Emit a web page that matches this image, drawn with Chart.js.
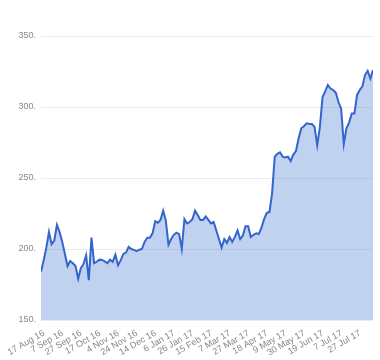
<!DOCTYPE html>
<html>
<head>
<meta charset="utf-8">
<script src="https://cdn.jsdelivr.net/npm/chart.js@4.4.1/dist/chart.umd.min.js"></script>
<style>
  body { margin: 0; background: #fff; }
  canvas { display: block; }
</style>
</head>
<body>
<canvas id="grafico" width="380" height="360"></canvas>
<script>
// datas mostradas no eixo x (uma a cada 14 pregões)
const tickLabels = ["17 Aug 16", "7 Sep 16", "27 Sep 16", "17 Oct 16", "4 Nov 16", "24 Nov 16",
  "14 Dec 16", "6 Jan 17", "26 Jan 17", "15 Feb 17", "7 Mar 17", "27 Mar 17",
  "18 Apr 17", "9 May 17", "30 May 17", "19 Jun 17", "7 Jul 17", "27 Jul 17"];
const diasPorTick = 14;
const passo = 2; // um valor a cada 2 pregões

// cotações
const precos = [
  184, 192, 201, 212, 203.5, 206, 217, 212, 205, 196.5,
  188, 191.5, 190, 188, 179, 186.5, 189.5, 195.5, 178, 208,
  190, 191, 192.5, 192.3, 191.3, 190, 192.5, 191, 196, 188.5,
  192, 196.5, 197.5, 201.5, 200, 199.4, 198.5, 199.5, 200, 205,
  208, 208, 211, 219.5, 218.5, 220.5, 227, 220, 203, 207,
  210, 211.5, 210.5, 200, 221, 218, 219, 221, 227, 224,
  220.5, 220.5, 223, 220.5, 218, 219, 213, 207, 201, 207,
  204.3, 208.5, 205, 208.5, 213, 207, 209.5, 216, 216, 208.5,
  210, 211, 210.5, 215, 221, 225.5, 226, 239, 265, 267,
  268, 265, 264.5, 265, 262, 266.5, 269, 278, 285, 286.5,
  288.5, 288, 288, 286, 273, 286, 307, 311, 315.5, 313,
  312, 310, 303.5, 299, 274, 285, 289, 295.5, 295.5, 308.5,
  312, 314.5, 322.5, 325.5, 320, 326
];
const yTicks = [150, 200, 250, 300, 350];

const pontos = precos.map((v, i) => ({ x: i * passo, y: v }));

Chart.defaults.font.family = "'Liberation Sans', Arial, sans-serif";
Chart.defaults.color = "#888";

const ctx = document.getElementById("grafico").getContext("2d");
new Chart(ctx, {
  type: "line",
  data: {
    datasets: [
      {
        data: pontos,
        borderColor: "#3366CC",
        backgroundColor: "rgba(51, 102, 204, 0.3)",
        borderWidth: 2,
        pointRadius: 0,
        tension: 0,
        fill: "start",
      },
    ],
  },
  options: {
    responsive: false,
    animation: false,
    layout: { padding: { top: 36, right: 7, left: 0, bottom: 0 } },
    plugins: {
      legend: { display: false },
      tooltip: { enabled: false },
    },
    scales: {
      x: {
        type: "linear",
        min: 0,
        max: (precos.length - 1) * passo,
        grid: { display: false },
        border: { display: false },
        afterFit: (scale) => {
          scale.height = 40;
          scale.paddingLeft = 0;
          scale.paddingRight = 0;
        },
        ticks: {
          stepSize: diasPorTick,
          includeBounds: false,
          autoSkip: false,
          minRotation: 30,
          maxRotation: 30,
          padding: 0,
          labelOffset: 3,
          font: { size: 9 },
          callback: (v) => (v % diasPorTick === 0 ? tickLabels[v / diasPorTick] : ""),
        },
      },
      y: {
        min: yTicks[0],
        max: yTicks[yTicks.length - 1],
        grid: { color: "#ececec", drawTicks: false },
        border: { display: false },
        afterFit: (scale) => { scale.width = 41; },
        ticks: {
          stepSize: 50,
          padding: 5,
          font: { size: 9 },
          callback: (v) => v + ".",
        },
      },
    },
  },
});
</script>
</body>
</html>
